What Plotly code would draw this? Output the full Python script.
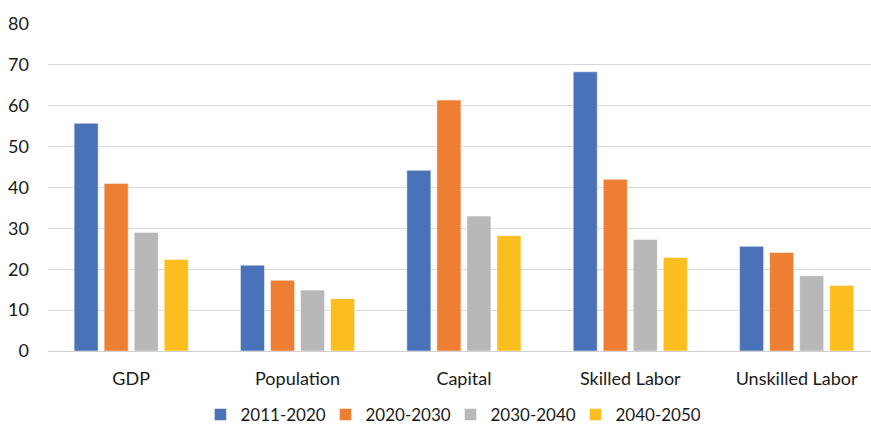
import plotly.graph_objects as go

categories = ["GDP", "Population", "Capital", "Skilled Labor", "Unskilled Labor"]
periods = ["2011-2020", "2020-2030", "2030-2040", "2040-2050"]
values_2011_2020 = [55.7, 21.0, 44.2, 68.3, 25.6]
values_2020_2030 = [41.0, 17.3, 61.4, 42.0, 24.1]
values_2030_2040 = [29.0, 14.9, 33.0, 27.3, 18.4]
values_2040_2050 = [22.4, 12.8, 28.2, 22.9, 16.0]
colors = ["#4A72B8", "#ED7E32", "#B8B8B8", "#FBBE1E"]

series = [values_2011_2020, values_2020_2030, values_2030_2040, values_2040_2050]

fig = go.Figure()
for name, vals, col in zip(periods, series, colors):
    fig.add_trace(go.Bar(
        x=categories, y=vals, name=name,
        marker=dict(color=col, line=dict(color="rgba(255,255,255,0.6)", width=0.8)),
    ))

font_family = "Lato, 'Open Sans', sans-serif"
fig.update_layout(
    width=871, height=426,
    margin=dict(l=48, r=0, t=24, b=75, autoexpand=False),
    paper_bgcolor="white", plot_bgcolor="white",
    barmode="group", bargap=0.278, bargroupgap=0.2,
    font=dict(family=font_family, size=18, color="#1A1A1A"),
    showlegend=True,
    legend=dict(orientation="h", x=0.489, xanchor="center",
                yref="container", y=0.026, yanchor="middle",
                font=dict(size=17), itemwidth=30, entrywidth=80,
                traceorder="normal"),
    xaxis=dict(range=[-0.5, 4.447], showgrid=False, showline=False, ticks="",
               tickfont=dict(size=18), ticklabelstandoff=15),
    yaxis=dict(range=[0, 80], dtick=10, showgrid=True, gridcolor="#D9D9D9", gridwidth=1.3,
               zeroline=True, zerolinecolor="#D0D0D0", zerolinewidth=1.3,
               showline=False, ticks="", tickfont=dict(size=18), ticklabelstandoff=18),
)

fig.write_html("out.html")
